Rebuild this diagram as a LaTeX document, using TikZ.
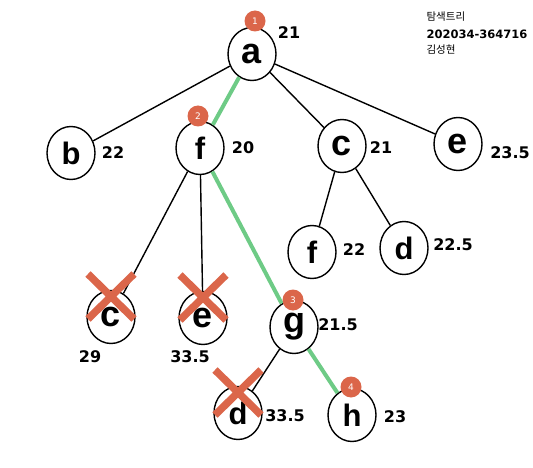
\documentclass[tikz,border=0pt]{standalone}
\usepackage{fontspec}
\setmainfont{DejaVu Sans}
\newfontfamily\letterfont{Liberation Sans}
\newfontfamily\krfont{Noto Sans CJK KR}
\usetikzlibrary{shapes.geometric,calc}

\definecolor{pathgreen}{RGB}{110,203,134}
\definecolor{markred}{RGB}{219,102,74}

\tikzset{
  vtx/.style={draw, ellipse, line width=1.4pt, minimum width=48pt, minimum height=53pt, inner sep=0pt},
  lowlet/.style={font=\letterfont\bfseries\fontsize{36}{36}\selectfont},
  highlet/.style={font=\letterfont\bfseries\fontsize{31}{31}\selectfont},
  cost/.style={font=\bfseries\fontsize{16}{16}\selectfont},
  badge/.style={circle, fill=markred, text=white, minimum size=21pt, inner sep=0pt, font=\fontsize{9}{9}\selectfont},
  edge/.style={line width=1.4pt},
  picked/.style={line width=4pt, pathgreen},
  cut/.style={line width=7.5pt, markred}
}

\begin{document}
\begin{tikzpicture}[x=1pt, y=-1pt]
    \useasboundingbox (0,0) rectangle (533,468);
    % tree nodes
    \node[vtx, lowlet] (a) at (252,54) {a};
    \node[vtx, highlet] (b) at (71,153) {b};
    \node[vtx, highlet] (f) at (200,148) {f};
    \node[vtx, lowlet] (c) at (342,146) {c};
    \node[vtx, lowlet] (e) at (458,144) {e};
    \node[vtx, highlet] (f2) at (312,252) {f};
    \node[vtx, highlet] (d) at (404,248) {d};
    \node[vtx, lowlet] (c2) at (111,317) {c};
    \node[vtx, lowlet] (e2) at (203,318) {e};
    \node[vtx, lowlet] (g) at (294,327) {g};
    \node[vtx, highlet] (d2) at (238,413) {d};
    \node[vtx, highlet] (h) at (352,415) {h};
    % edges
    \draw[edge] (a)--(b) (a)--(c) (a)--(e) (f)--(c2) (f)--(e2) (c)--(f2) (c)--(d) (g)--(d2);
    \draw[picked] (a)--(f) (f)--(g) (g)--(h);
    % costs
    \node[cost] (ka) at (289,33) {21}; \node[cost] (kb) at (113,153) {22};
    \node[cost] (kf) at (243,148) {20}; \node[cost] (kc) at (381,148) {21};
    \node[cost] (ke) at (510,153) {23.5}; \node[cost] (kf2) at (354,250) {22};
    \node[cost] (kd) at (453,245) {22.5}; \node[cost] (kc2) at (90,357) {29};
    \node[cost] (ke2) at (190,357) {33.5}; \node[cost] (kg) at (338,325) {21.5};
    \node[cost] (kd2) at (285,416) {33.5}; \node[cost] (kh) at (395,417) {23};
    % order of visits
    \node[badge] (n1) at (255,21) {1};
    \node[badge] (n2) at (198,116) {2};
    \node[badge] (n3) at (293,300) {3};
    \node[badge] (n4) at (351,387) {4};
    % pruned nodes
    \foreach \p in {c2,e2,d2} {
      \draw[cut] ($(\p)+(-23,-43)$)--($(\p)+(23,2)$) ($(\p)+(23,-43)$)--($(\p)+(-23,2)$);
    }
    % title
    \node[anchor=west, font=\krfont\fontsize{10.5}{11}\selectfont] (t1) at (423,17) {탐색트리};
    \node[anchor=west, font=\bfseries\fontsize{11.5}{12}\selectfont] (t2) at (423,34) {202034-364716};
    \node[anchor=west, font=\krfont\fontsize{10.5}{11}\selectfont] (t3) at (423,50) {김성현};
\end{tikzpicture}
\end{document}
